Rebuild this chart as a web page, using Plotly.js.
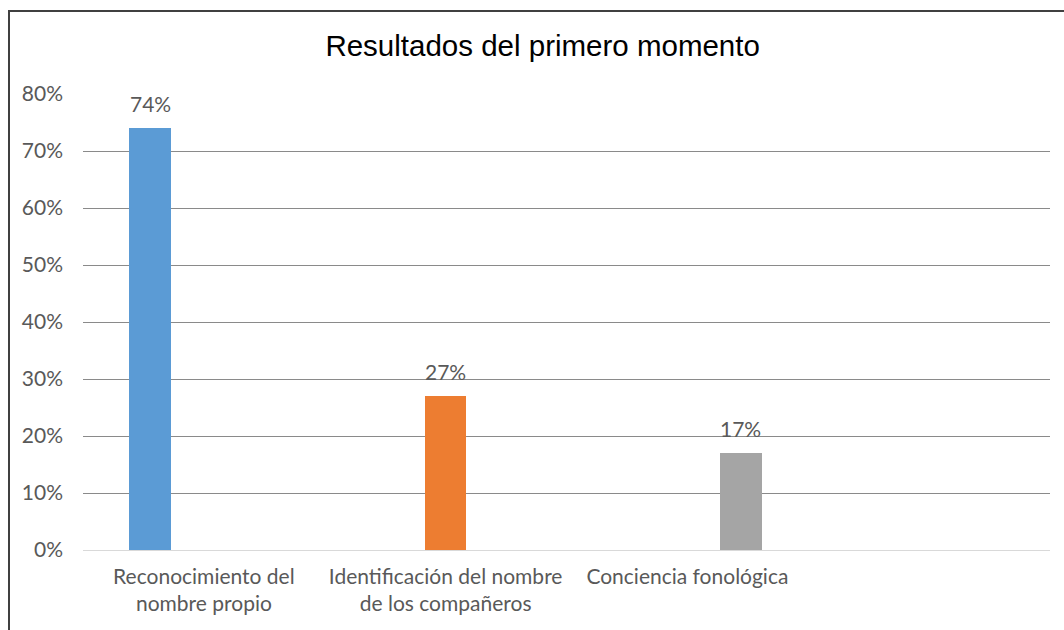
<!DOCTYPE html>
<html>
<head>
<meta charset="utf-8">
<script src="https://cdn.plot.ly/plotly-3.0.1.min.js"></script>
<style>
html,body{margin:0;padding:0;background:#fff;}
#wrap{position:relative;width:1064px;height:630px;overflow:hidden;}
#chart{position:absolute;left:0;top:0;width:1064px;height:630px;}
#frame{position:absolute;left:8px;top:10px;width:1100px;height:700px;border-left:2px solid #404040;border-top:2px solid #404040;pointer-events:none;}
</style>
</head>
<body>
<div id="wrap"><div id="chart"></div><div id="frame"></div></div>
<script>
const categories = ["Reconocimiento del nombre propio", "Identificación del nombre de los compañeros", "Conciencia fonológica"];
const tickLabels = ["Reconocimiento del<br>nombre propio", "Identificación del nombre<br>de los compañeros", "Conciencia fonológica"];
const values = [0.74, 0.27, 0.17];
const barColors = ["#5B9BD5", "#ED7D31", "#A5A5A5"];
const yTicks = [0, 0.1, 0.2, 0.3, 0.4, 0.5, 0.6, 0.7, 0.8];
const yTickText = ["0%", "10%", "20%", "30%", "40%", "50%", "60%", "70%", "80%"];

const FONT = "Lato, 'Open Sans', sans-serif";
const TXT = "#595959";

const trace = {
  type: "bar",
  x: categories,
  y: values,
  marker: {color: barColors},
  width: 0.142,
  hoverinfo: "skip",
  xaxis: "x",
  yaxis: "y"
};

const annotations = categories.map((c, i) => ({
  x: c, y: values[i], xref: "x", yref: "y",
  text: Math.round(values[i] * 100) + "%",
  showarrow: false, yanchor: "bottom", yshift: 10,
  font: {family: FONT, size: 21, color: TXT}
}));

const layout = {
  width: 1064, height: 630,
  margin: {l: 83, r: 14, t: 94, b: 80},
  paper_bgcolor: "rgba(0,0,0,0)",
  plot_bgcolor: "rgba(0,0,0,0)",
  showlegend: false,
  bargap: 0,
  title: {
    text: "Resultados del primero momento",
    font: {family: "'Liberation Sans', Arial, sans-serif", size: 29.5, color: "#000"},
    xref: "container", x: 0.51, xanchor: "center",
    yref: "container", y: 1 - 46/630, yanchor: "middle"
  },
  xaxis: {
    type: "category",
    range: [-0.227, 3.046],
    showticklabels: false,
    showgrid: false,
    zeroline: false,
    showline: false,
    fixedrange: true
  },
  xaxis2: {
    type: "linear",
    overlaying: "x",
    anchor: "y",
    range: [-0.5, 3.5],
    tickvals: [0, 1, 2],
    ticktext: tickLabels,
    ticks: "",
    ticklabelstandoff: 12,
    showgrid: false, zeroline: false, showline: false,
    tickfont: {family: FONT, size: 21, color: TXT}
  },
  yaxis: {
    range: [0, 0.8],
    tickvals: yTicks,
    ticktext: yTickText,
    showgrid: true,
    gridcolor: "#8a8a8a",
    gridwidth: 1,
    zeroline: true,
    zerolinecolor: "#d9d9d9",
    zerolinewidth: 1,
    showline: false,
    ticks: "",
    ticklabelstandoff: 19,
    tickfont: {family: FONT, size: 21, color: TXT}
  },
  annotations: annotations
};

// invisible helper trace so the label axis (xaxis2) is drawn
const dummy = {type: "scatter", x: [0], y: [0], xaxis: "x2", yaxis: "y", mode: "markers", marker: {opacity: 0}, hoverinfo: "skip"};

Plotly.newPlot("chart", [trace, dummy], layout, {staticPlot: true, displayModeBar: false});
</script>
</body>
</html>
